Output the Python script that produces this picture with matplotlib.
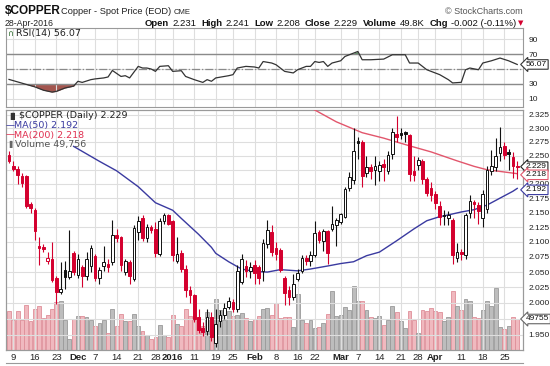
import numpy as np
import pandas as pd
import matplotlib
matplotlib.use("Agg")
import matplotlib.pyplot as plt
from matplotlib.lines import Line2D
from matplotlib.ticker import FixedLocator, NullLocator, FixedFormatter

plt.rcParams['font.family'] = ['Liberation Sans', 'DejaVu Sans']

# trading days shown (exchange holidays skipped)
holidays = ["2015-11-26", "2015-12-25", "2016-01-01", "2016-01-18", "2016-02-15", "2016-03-25"]
dates = pd.bdate_range("2015-11-06", "2016-04-28", freq="C", holidays=holidays)

opens = [2.252, 2.232, 2.226, 2.213, 2.213, 2.165, 2.155, 2.094, 2.092, 2.069,
         2.072, 2.040, 2.018, 2.054, 2.042, 2.081, 2.045, 2.058, 2.043, 2.060,
         2.076, 2.041, 2.060, 2.063, 2.067, 2.112, 2.108, 2.050, 2.066, 2.039,
         2.117, 2.141, 2.106, 2.126, 2.122, 2.080, 2.135, 2.145, 2.135, 2.068,
         2.082, 2.055, 2.020, 2.012, 1.978, 1.960, 1.955, 1.978, 1.937, 1.971,
         1.980, 1.993, 2.002, 1.990, 2.034, 2.060, 2.052, 2.062, 2.058, 2.052,
         2.097, 2.117, 2.090, 2.086, 2.040, 2.020, 2.010, 2.038, 2.051, 2.073,
         2.069, 2.078, 2.116, 2.101, 2.118, 2.122, 2.128, 2.134, 2.142, 2.193,
         2.207, 2.277, 2.275, 2.219, 2.230, 2.224, 2.222, 2.236, 2.223, 2.253,
         2.290, 2.292, 2.293, 2.288, 2.222, 2.233, 2.240, 2.209, 2.192, 2.182,
         2.162, 2.146, 2.140, 2.137, 2.074, 2.084, 2.078, 2.150, 2.168, 2.163,
         2.141, 2.157, 2.222, 2.230, 2.255, 2.267, 2.257, 2.248, 2.231]
highs = [2.258, 2.240, 2.231, 2.220, 2.215, 2.168, 2.158, 2.109, 2.096, 2.083,
         2.100, 2.043, 2.067, 2.068, 2.120, 2.085, 2.080, 2.062, 2.084, 2.095,
         2.080, 2.058, 2.094, 2.072, 2.138, 2.122, 2.110, 2.072, 2.070, 2.128,
         2.144, 2.145, 2.130, 2.128, 2.133, 2.140, 2.150, 2.148, 2.137, 2.109,
         2.086, 2.062, 2.028, 2.015, 1.990, 1.970, 1.990, 1.985, 1.990, 1.988,
         2.000, 2.010, 2.006, 2.061, 2.080, 2.070, 2.066, 2.070, 2.062, 2.105,
         2.138, 2.128, 2.100, 2.090, 2.044, 2.028, 2.047, 2.055, 2.078, 2.078,
         2.085, 2.135, 2.120, 2.122, 2.121, 2.162, 2.140, 2.150, 2.195, 2.221,
         2.300, 2.285, 2.278, 2.250, 2.235, 2.250, 2.240, 2.245, 2.258, 2.300,
         2.323, 2.300, 2.296, 2.290, 2.250, 2.248, 2.245, 2.212, 2.203, 2.188,
         2.170, 2.155, 2.152, 2.140, 2.098, 2.088, 2.150, 2.180, 2.172, 2.168,
         2.190, 2.232, 2.260, 2.282, 2.303, 2.275, 2.262, 2.256, 2.241]
lows = [2.237, 2.222, 2.199, 2.195, 2.158, 2.150, 2.103, 2.061, 2.084, 2.063,
        2.033, 1.999, 2.015, 2.023, 2.039, 2.045, 2.040, 2.026, 2.037, 2.050,
        2.035, 2.030, 2.051, 2.050, 2.062, 2.100, 2.051, 2.045, 2.030, 2.035,
        2.103, 2.102, 2.100, 2.115, 2.075, 2.076, 2.130, 2.128, 2.068, 2.065,
        2.050, 2.010, 2.000, 1.970, 1.952, 1.948, 1.950, 1.940, 1.930, 1.962,
        1.975, 1.990, 1.985, 1.985, 2.030, 2.042, 2.040, 2.030, 2.030, 2.036,
        2.090, 2.076, 2.070, 2.050, 1.996, 1.996, 2.005, 2.035, 2.048, 2.062,
        2.060, 2.075, 2.098, 2.085, 2.063, 2.118, 2.094, 2.130, 2.140, 2.188,
        2.200, 2.245, 2.195, 2.212, 2.208, 2.198, 2.205, 2.205, 2.218, 2.245,
        2.275, 2.280, 2.275, 2.205, 2.205, 2.225, 2.200, 2.178, 2.170, 2.157,
        2.128, 2.128, 2.128, 2.064, 2.066, 2.070, 2.072, 2.140, 2.140, 2.130,
        2.126, 2.150, 2.215, 2.222, 2.240, 2.245, 2.225, 2.210, 2.208]
closes = [2.241, 2.226, 2.216, 2.201, 2.161, 2.158, 2.118, 2.090, 2.088, 2.074,
          2.037, 2.018, 2.023, 2.042, 2.051, 2.050, 2.071, 2.044, 2.071, 2.090,
          2.041, 2.053, 2.066, 2.058, 2.112, 2.106, 2.062, 2.068, 2.043, 2.124,
          2.135, 2.106, 2.126, 2.120, 2.082, 2.136, 2.145, 2.131, 2.078, 2.080,
          2.055, 2.021, 2.013, 1.975, 1.957, 1.954, 1.978, 1.946, 1.967, 1.980,
          1.992, 2.003, 1.991, 2.051, 2.072, 2.052, 2.058, 2.049, 2.041, 2.098,
          2.121, 2.084, 2.080, 2.053, 2.016, 2.010, 2.031, 2.048, 2.073, 2.068,
          2.078, 2.115, 2.103, 2.118, 2.082, 2.130, 2.137, 2.147, 2.191, 2.212,
          2.258, 2.274, 2.213, 2.230, 2.222, 2.232, 2.234, 2.230, 2.252, 2.294,
          2.284, 2.288, 2.289, 2.218, 2.215, 2.242, 2.209, 2.184, 2.180, 2.166,
          2.142, 2.144, 2.146, 2.078, 2.084, 2.080, 2.146, 2.170, 2.164, 2.152,
          2.183, 2.225, 2.232, 2.250, 2.266, 2.252, 2.254, 2.231, 2.229]
volume_k = [63.2, 48.6, 63.2, 48.6, 72.9, 45.9, 66.5, 70.2, 51.4, 56.7,
            66.0, 77.3, 78.3, 48.6, 17.8, 49.8, 54.0, 54.0, 53.0, 48.6,
            38.9, 43.3, 47.5, 28.0, 66.0, 38.9, 58.4, 45.9, 45.9, 58.4,
            38.9, 29.7, 24.3, 17.3, 21.6, 40.5, 24.3, 21.6, 56.7, 42.1,
            38.9, 66.0, 54.0, 48.6, 51.4, 38.9, 60.5, 43.3, 81.1, 64.8,
            48.6, 62.1, 55.1, 56.7, 59.5, 51.4, 45.9, 49.8, 55.1, 66.0,
            67.6, 56.7, 75.7, 51.4, 53.0, 53.0, 36.8, 89.2, 47.5, 43.3,
            47.5, 35.2, 36.8, 43.3, 58.4, 94.5, 55.1, 56.7, 68.6, 64.8,
            102.6, 78.3, 79.4, 63.7, 53.0, 51.4, 55.1, 40.5, 48.6, 71.3,
            60.5, 45.9, 35.2, 62.1, 47.5, 27.1, 64.8, 62.1, 67.6, 62.1,
            60.5, 45.9, 53.0, 94.5, 71.3, 64.8, 81.1, 79.4, 53.0, 51.4,
            63.7, 78.3, 71.3, 98.9, 36.8, 33.6, 38.9, 53.0, 49.756]

# moving averages (bar index, value)
ma50_bar = [15, 21, 25, 30, 34, 38, 40, 44, 47, 48, 51, 54, 57, 60, 63, 67, 70, 74,
            77, 80, 83, 86, 90, 94, 97, 100, 102, 105, 108, 111, 114, 117, 118]
ma50_val = [2.267, 2.240, 2.223, 2.195, 2.167, 2.154, 2.140, 2.113, 2.091, 2.081,
            2.067, 2.055, 2.051, 2.050, 2.054, 2.052, 2.055, 2.060, 2.064, 2.067,
            2.077, 2.083, 2.102, 2.122, 2.136, 2.143, 2.146, 2.151, 2.155, 2.163,
            2.175, 2.187, 2.192]
ma200_bar = [70, 71, 76, 82, 87, 93, 98, 104, 108, 111, 114, 118]
ma200_val = [2.338, 2.334, 2.312, 2.292, 2.282, 2.268, 2.257, 2.241, 2.231, 2.225, 2.222, 2.218]

# RSI(14) (bar index, value)
rsi_bar = [0, 3, 6, 8, 10, 11, 13, 15, 16, 17, 19, 20, 22, 23, 24, 26, 27, 28, 30, 31,
           32, 33, 34, 35, 37, 38, 40, 41, 43, 45, 46, 47, 48, 51, 52, 53, 55, 57, 58, 59,
           61, 62, 64, 66, 67, 69, 70, 71, 72, 73, 74, 75, 77, 78, 80, 81, 82, 84, 87, 89,
           91, 92, 93, 95, 97, 100, 102, 103, 105, 106, 107, 109, 110, 112, 114, 116, 118]
rsi_val = [36, 31, 26, 21.5, 19, 20, 24.5, 27, 33.5, 32, 35.7, 36.7, 38, 39.3, 48, 40, 41, 38, 53.5, 51.3,
           51.3, 50, 46.8, 53.5, 54.4, 46.8, 47.7, 40, 35.7, 32, 35.7, 33.5, 38, 41, 42.4, 51.3, 53.5, 52.7, 51.3, 60,
           58, 55.7, 46.8, 44.7, 49, 53.5, 53.5, 60, 58.8, 60, 53.5, 58, 61, 66.8, 71.3, 73.5, 62.4, 62.4, 63.3, 69.1,
           69.1, 69.1, 58, 58, 49, 42.4, 35.7, 31.3, 32.1, 49, 51.3, 49, 58, 61, 64.7, 61, 56.07]

tick_days = ["2015-11-09", "2015-11-16", "2015-11-23", "2015-12-01", "2015-12-07", "2015-12-14",
             "2015-12-21", "2015-12-28", "2016-01-04", "2016-01-11", "2016-01-19", "2016-01-25",
             "2016-02-01", "2016-02-08", "2016-02-16", "2016-02-22", "2016-03-01", "2016-03-07",
             "2016-03-14", "2016-03-21", "2016-03-28", "2016-04-01", "2016-04-11", "2016-04-18",
             "2016-04-25"]
tick_text = ["9", "16", "23", "Dec", "7", "14", "21", "28", "2016", "11", "19", "25", "Feb",
             "8", "16", "22", "Mar", "7", "14", "21", "28", "Apr", "11", "18", "25"]
price_ticks = [1.950, 1.975, 2.000, 2.025, 2.050, 2.075, 2.100, 2.125, 2.150, 2.175,
               2.200, 2.225, 2.250, 2.275, 2.300, 2.325]
# tick labels that sit under the last-value tags
hidden_ticks = [1.975, 2.225]

RED = "#d4002e"
GRID = "#dedede"
FRAME = "#9a9a9a"
MA50_C = "#3a3aa0"
MA200_C = "#e2566c"

o = np.array(opens)
h = np.array(highs)
l = np.array(lows)
c = np.array(closes)
x = np.arange(len(dates))
up = c > np.r_[o[0], c[:-1]]
tick_pos = [dates.get_loc(pd.Timestamp(d)) for d in tick_days]

W, H = 550, 366
fig = plt.figure(figsize=(W / 100, H / 100), dpi=100)


def box(x0, y0, x1, y1):
    return [x0 / W, 1 - y1 / H, (x1 - x0) / W, (y1 - y0) / H]


def ftext(px, py, s, **kw):
    return fig.text(px / W, 1 - py / H, s, va="center", **kw)


def tag(axis, val, s, edge, trans):
    # last-value marker sitting just right of the panel
    axis.annotate(s, xy=(1.0, val), xycoords=trans, xytext=(2, 0), textcoords="offset points",
                  ha="left", va="center", fontsize=6, color="#111111", zorder=10,
                  annotation_clip=False,
                  bbox=dict(boxstyle="larrow,pad=0.15", fc="white", ec=edge, lw=0.8))


xlim = (-0.70, 119.34)

# ---- RSI panel ----
ax_rsi = fig.add_axes(box(6, 28, 523, 107))
ax_rsi.set_xlim(*xlim)
ax_rsi.set_ylim(-1, 105)
ax_rsi.xaxis.set_major_locator(FixedLocator(tick_pos))
ax_rsi.set_yticks([10, 30, 50, 70, 90])
ax_rsi.tick_params(axis="x", length=0, labelbottom=False)
ax_rsi.yaxis.tick_right()
ax_rsi.tick_params(axis="y", length=0, labelsize=6, pad=4, colors="#222222")
ax_rsi.set_yticklabels(["10", "30", "", "70", "90"])
ax_rsi.grid(True, color=GRID, lw=0.8)
ax_rsi.axhline(70, color="#8a8a8a", lw=1.0)
ax_rsi.axhline(30, color="#8a8a8a", lw=1.0)
ax_rsi.axhline(50, color="#8a8a8a", lw=0.9, ls="-.")
rb = np.array(rsi_bar, dtype=float)
rv = np.array(rsi_val)
ax_rsi.fill_between(rb, rv, 30, where=rv < 30, interpolate=True, color="#a3564f", lw=0)
ax_rsi.fill_between(rb, rv, 70, where=rv > 70, interpolate=True, color="#4f8a55", lw=0)
ax_rsi.plot(rb, rv, color="#333333", lw=0.9)
for s in ax_rsi.spines.values():
    s.set_color(FRAME)
tag(ax_rsi, 56.07, "56.07", "#333333", ax_rsi.get_yaxis_transform())

# ---- price panel ----
ax = fig.add_axes(box(6, 110, 523, 350))
axv = ax.twinx()
ax.set_zorder(2)
axv.set_zorder(1)
ax.patch.set_visible(False)
axv.patch.set_visible(True)
axv.patch.set_facecolor("white")

axv.set_ylim(0, 385)
axv.set_yticks([])
vfill = np.where(up, "#bdbdbd", "#f0b9bf")
vedge = np.where(up, "#9a9a9a", "#de8f99")
axv.bar(x, volume_k, width=0.9, color=vfill, edgecolor=vedge, lw=0.6)

ax.set_yscale("log")
ax.set_xlim(*xlim)
ax.set_ylim(1.926, 2.334)
ax.yaxis.set_major_locator(FixedLocator(price_ticks))
ax.yaxis.set_minor_locator(NullLocator())
ax.yaxis.set_major_formatter(FixedFormatter(
    ["" if t in hidden_ticks else "%.3f" % t for t in price_ticks]))
ax.yaxis.tick_right()
ax.tick_params(axis="y", length=0, labelsize=6, pad=4, colors="#222222")
ax.xaxis.set_major_locator(FixedLocator(tick_pos))
ax.set_xticklabels(tick_text)
ax.tick_params(axis="x", length=0, labelsize=6.8, pad=2.5, colors="#222222")
for lab in ax.get_xticklabels():
    if not lab.get_text().isdigit() or lab.get_text() == "2016":
        lab.set_fontweight("bold")
ax.grid(True, color=GRID, lw=0.8)
ax.set_axisbelow(True)
for a in (ax, axv):
    for s in a.spines.values():
        s.set_color(FRAME)

ax.plot(ma200_bar, ma200_val, color=MA200_C, lw=1.0, zorder=3)
ax.plot(ma50_bar, ma50_val, color=MA50_C, lw=1.0, zorder=3)

cols = np.where(up, "#111111", RED)
ax.vlines(x, l, h, colors=cols, lw=0.8, zorder=4)
body_lo = np.minimum(o, c)
body_h = np.maximum(np.abs(c - o), 0.0008)
faces = [col if cc < oo else "white" for col, cc, oo in zip(cols, c, o)]
ax.bar(x, body_h, bottom=body_lo, width=0.62, color=faces, edgecolor=cols, lw=0.7, zorder=5)

ytr = ax.get_yaxis_transform()
tag(ax, 2.2305, "2.229", "#222222", ytr)
tag(ax, 2.2160, "2.218", MA200_C, ytr)
tag(ax, 2.1895, "2.192", MA50_C, ytr)
tag(ax, 49.756, "49755", "#666666", axv.get_yaxis_transform())

# next panel edge peeking in at the bottom
fig.add_artist(Line2D([6 / W, 523 / W], [1 - 362.5 / H] * 2, color=FRAME, lw=0.8))

# ---- header ----
ftext(5, 11, "$COPPER", fontsize=8.5, fontweight="bold", color="#111111")
ftext(61, 11.5, "Copper - Spot Price (EOD)", fontsize=6.7, color="#222222")
ftext(174, 12, "CME", fontsize=5.5, color="#222222")
ftext(5, 23, "28-Apr-2016", fontsize=6.3, color="#222222")
ftext(445, 11.5, "\u00a9 StockCharts.com", fontsize=6.5, color="#555555")

pieces = [("Open", True), ("2.231", False), ("High", True), ("2.241", False),
          ("Low", True), ("2.208", False), ("Close", True), ("2.229", False),
          ("Volume", True), ("49.8K", False), ("Chg", True), ("-0.002 (-0.11%)", False)]
renderer = fig.canvas.get_renderer()
cx = 145
for s, bold in pieces:
    t = ftext(cx, 23, s, fontsize=6.8, fontweight="bold" if bold else "normal", color="#111111")
    cx += t.get_window_extent(renderer).width + (3 if bold else 5)
ftext(518, 23, "\u25bc", fontsize=5, color=RED, family="DejaVu Sans")

# ---- legends ----
ftext(8, 33.5, "\u2229", fontsize=6, color="#2a6a2a", family="DejaVu Sans")
ftext(16, 33.5, "RSI(14) 56.07", fontsize=6.8, color="#222222", family="DejaVu Sans")
ftext(7, 116, "\u2590\u258c", fontsize=5, color="#333333", family="DejaVu Sans")
ftext(19, 116, "$COPPER (Daily) 2.229", fontsize=6.8, color="#222222", family="DejaVu Sans")
ftext(6, 125.5, "\u2014", fontsize=6.5, color=MA50_C, family="DejaVu Sans")
ftext(14, 125.5, "MA(50) 2.192", fontsize=6.8, color=MA50_C, family="DejaVu Sans")
ftext(6, 135, "\u2014", fontsize=6.5, color="#e03050", family="DejaVu Sans")
ftext(14, 135, "MA(200) 2.218", fontsize=6.8, color="#e03050", family="DejaVu Sans")
ftext(6.5, 144.5, "\u2590", fontsize=5, color="#666666", family="DejaVu Sans")
ftext(15, 144.5, "Volume 49,756", fontsize=6.8, color="#555555", family="DejaVu Sans")

fig.savefig("out.png", dpi=100)
